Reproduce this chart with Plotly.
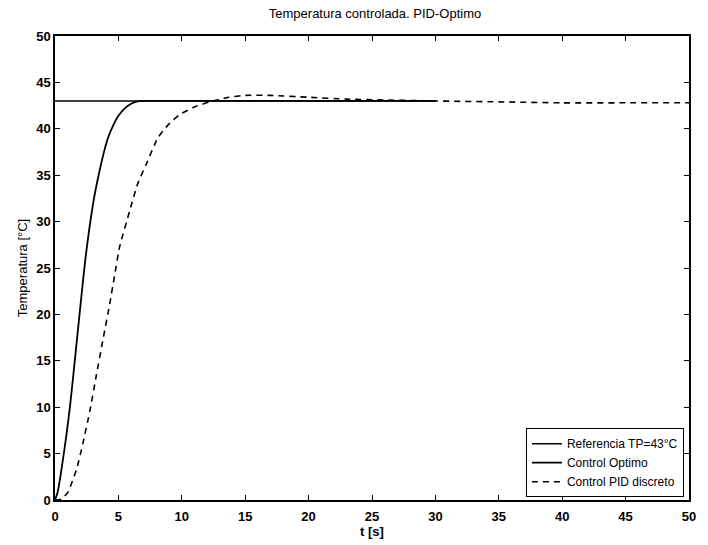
import plotly.graph_objects as go

# Reference setpoint
t_ref = [0, 30]
T_ref = [43, 43]

# Optimal control response
t_opt = [0, 0.2, 0.4, 0.65, 0.9, 1.2, 1.5, 1.8, 2.1, 2.4, 2.7, 3.0, 3.3, 3.6, 3.9,
         4.2, 4.6, 5.0, 5.5, 6.0, 6.5, 7.0, 8, 10, 15, 20, 25, 30]
T_opt = [0, 0.8, 2.3, 4.6, 7.0, 10.3, 14.2, 18.2, 22.2, 26.0, 29.2, 31.9, 34.1, 36.0, 37.7,
         39.1, 40.4, 41.4, 42.2, 42.7, 42.95, 43.0, 43.0, 43.0, 43.0, 43.0, 43.0, 43.0]

# Discrete PID response
t_pid = [0, 0.5, 1.0, 1.7, 2.2, 2.75, 3.27, 3.8, 4.3, 4.7, 5.1, 5.9, 6.5, 7.2, 8.1,
         8.9, 9.8, 10.9, 12.2, 13.7, 15, 17, 20, 23, 26, 30, 35, 40, 45, 50]
T_pid = [0, 0.1, 0.8, 3.3, 6.1, 9.6, 13.5, 17.4, 21.0, 24.2, 27.3, 31.2, 34.0, 36.2, 39.0,
         40.4, 41.5, 42.3, 42.9, 43.4, 43.6, 43.6, 43.4, 43.2, 43.1, 43.0, 42.9, 42.8, 42.8, 42.8]

x_ticks = list(range(0, 51, 5))
y_ticks = list(range(0, 51, 5))

FONT = "Liberation Sans, Arial, sans-serif"

fig = go.Figure()
fig.add_trace(go.Scatter(x=t_ref, y=T_ref, mode="lines", name="Referencia TP=43°C",
                         line=dict(color="black", width=1.5)))
fig.add_trace(go.Scatter(x=t_opt, y=T_opt, mode="lines", name="Control Optimo",
                         line=dict(color="black", width=1.8, shape="spline", smoothing=0.5)))
fig.add_trace(go.Scatter(x=t_pid, y=T_pid, mode="lines", name="Control PID discreto",
                         line=dict(color="black", width=1.6, dash="6px,5px", shape="spline", smoothing=0.5)))

axis_common = dict(
    showline=True, linecolor="black", linewidth=1.5, mirror="allticks",
    ticks="inside", ticklen=5, tickcolor="black", tickwidth=1,
    showgrid=False, zeroline=False,
    tickfont=dict(family=FONT, size=13, color="black", weight="bold"),
)

fig.update_layout(
    width=708, height=545,
    margin=dict(l=55, r=16, t=36, b=37),
    paper_bgcolor="white", plot_bgcolor="white",
    title=dict(text="Temperatura controlada. PID-Optimo", x=375 / 708,
               xanchor="center", y=1 - 13 / 545, yanchor="middle",
               font=dict(family=FONT, size=13, color="black")),
    xaxis=dict(range=[0, 50], tickvals=x_ticks, ticklabelstandoff=4,
               title=dict(text="t [s]", standoff=0,
                          font=dict(family=FONT, size=13, color="black", weight="bold")),
               **axis_common),
    yaxis=dict(range=[0, 50], tickvals=y_ticks,
               title=dict(text="Temperatura [°C]", standoff=6,
                          font=dict(family=FONT, size=13, color="black")),
               **axis_common),
    legend=dict(x=0.992, xanchor="right", y=0.006, yanchor="bottom",
                bgcolor="white", bordercolor="black", borderwidth=1,
                font=dict(family=FONT, size=12, color="black"),
                tracegroupgap=0, itemwidth=30),
    showlegend=True,
)

fig.write_html("out.html")
